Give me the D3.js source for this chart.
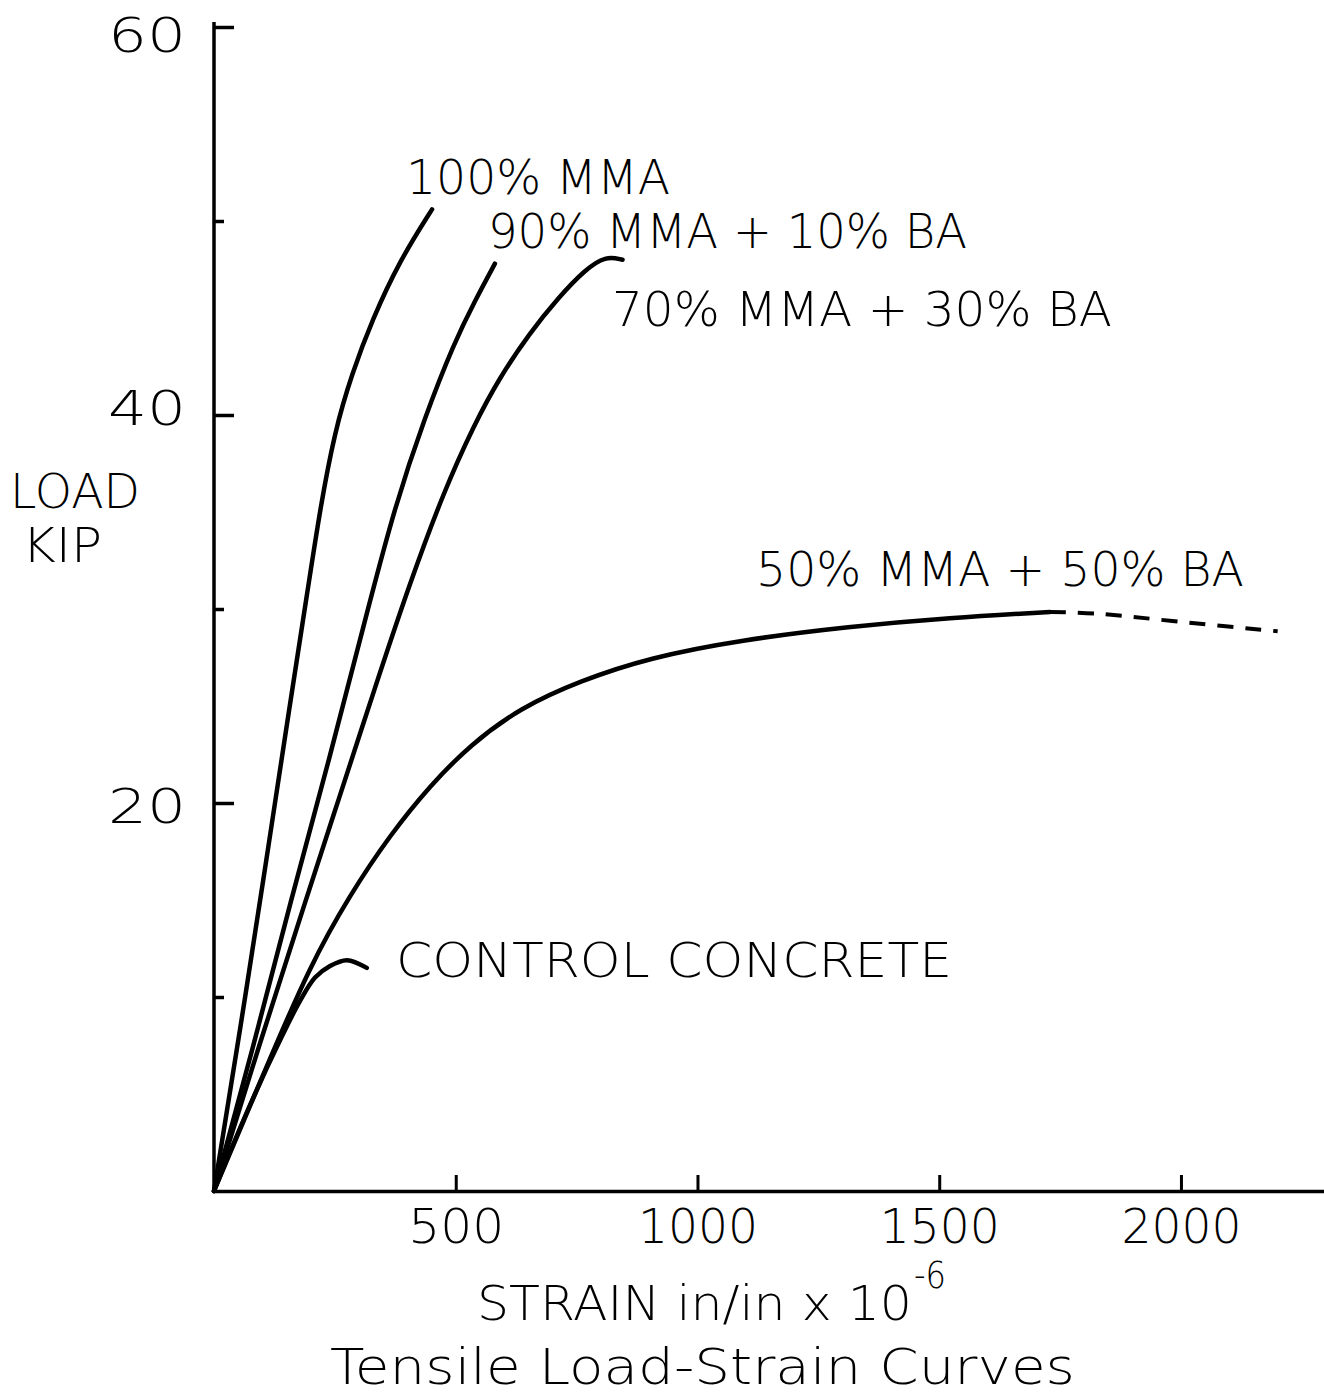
<!DOCTYPE html>
<html>
<head>
<meta charset="utf-8">
<script src="https://cdn.jsdelivr.net/npm/d3@7"></script>
<style>
  html, body { margin: 0; padding: 0; background: #fff; }
  svg { display: block; }
  text { font-family: "DejaVu Sans", sans-serif; font-weight: 200; fill: #000; }
</style>
</head>
<body>
<svg id="chart" width="1324" height="1398"></svg>
<script>
// ---- data (strain in/in x 10^-6, load kip) ----
const xTicks = [500, 1000, 1500, 2000];
const yTicks = [20, 40, 60];
const yMinorTicks = [10, 30, 50];

const mma100 = [[0,0],[54,8.3],[105,16.5],[157,25.1],[194,31.0],[219,35.1],[250,39.2],[285,42.1],[327,44.9],[385,48.0],[451,50.6]];
const mma90ba10 = [[0,0],[79,7.2],[159,15],[238,22.2],[312,29.4],[374,35.3],[436,39.9],[498,43.8],[540,45.9],[581,47.8]];
const mma70ba30 = [[0,0],[93,7.5],[190,15],[258,20.2],[331,25.8],[403,31.2],[476,36.1],[538,39.5],[590,41.9],[652,44.2],[714,46.1],[768,47.5],[810,48.2],[845,48.0]];
const mma50ba50 = [[0,0],[105,6.2],[199,11.65],[281,15.26],[364,18.35],[447,20.9],[530,23.0],[633,24.9],[757,26.3],[902,27.5],[1088,28.4],[1315,29.1],[1522,29.55],[1729,29.85]];
const mma50ba50Dashed = [[1729,29.85],[1830,29.75],[1995,29.35],[2200,28.85]];
const control = [[0,0],[74,4.4],[143,8.1],[178,9.8],[209,11.0],[240,11.6],[275,11.9],[316,11.5]];

const labelTexts = ["100% MMA", "90% MMA + 10% BA", "70% MMA + 30% BA", "50% MMA + 50% BA", "CONTROL CONCRETE"];

// ---- layout ----
const svg = d3.select("#chart");
const x = d3.scaleLinear().domain([0, 2300]).range([214, 1326]);
const y = d3.scaleLinear().domain([0, 60]).range([1191, 27]);

const tickTextWidth = d => String(d).length === 2 ? 78 : String(d).length === 3 ? 96 : 120;

// axes
const yAxis = d3.axisLeft(y).tickValues(yTicks).tickSizeInner(-20).tickSizeOuter(0).tickPadding(28).tickFormat(d3.format("d"));
const gy = svg.append("g").attr("transform", `translate(${x(0)},0)`).call(yAxis);
gy.select(".domain").attr("d", `M0,${y(0)}V22`).attr("stroke-width", 3.5);
gy.selectAll(".tick line").attr("stroke-width", 3.5);
gy.selectAll(".tick text")
  .attr("font-size", 48).attr("font-family", "DejaVu Sans").attr("font-weight", 200).attr("fill", "#000")
  .attr("textLength", tickTextWidth).attr("lengthAdjust", "spacingAndGlyphs")
  .attr("dy", d => d === 60 ? "0.5em" : d === 40 ? "0.2em" : "0.4em");

const yMinor = d3.axisLeft(y).tickValues(yMinorTicks).tickSizeInner(-10).tickSizeOuter(0).tickFormat("");
const gym = svg.append("g").attr("transform", `translate(${x(0)},0)`).call(yMinor);
gym.select(".domain").remove();
gym.selectAll(".tick line").attr("stroke-width", 3.5);

const xAxis = d3.axisBottom(x).tickValues(xTicks).tickSizeInner(-16).tickSizeOuter(0).tickPadding(18).tickFormat(d3.format("d"));
const gx = svg.append("g").attr("transform", `translate(0,${y(0)})`).call(xAxis);
gx.select(".domain").attr("stroke-width", 3.5);
gx.selectAll(".tick line").attr("stroke-width", 3);
gx.selectAll(".tick text")
  .attr("font-size", 48).attr("font-family", "DejaVu Sans").attr("font-weight", 200).attr("fill", "#000")
  .attr("textLength", tickTextWidth).attr("lengthAdjust", "spacingAndGlyphs");

// curves
const smooth = d3.line().x(d => x(d[0])).y(d => y(d[1])).curve(d3.curveBasis);
const through = d3.line().x(d => x(d[0])).y(d => y(d[1])).curve(d3.curveCatmullRom.alpha(0.5));
const series = [mma100, mma90ba10, mma70ba30, mma50ba50];
svg.append("g").selectAll("path.curve").data(series).join("path")
  .attr("class", "curve")
  .attr("d", smooth)
  .attr("fill", "none").attr("stroke", "#000").attr("stroke-width", 4.5)
  .attr("stroke-linecap", "round");
svg.append("path").datum(control).attr("d", through)
  .attr("fill", "none").attr("stroke", "#000").attr("stroke-width", 4.5)
  .attr("stroke-linecap", "round");
svg.append("path").datum(mma50ba50Dashed).attr("d", through)
  .attr("fill", "none").attr("stroke", "#000").attr("stroke-width", 4)
  .attr("stroke-dasharray", "16,12");

// curve labels
const labelPos = [
  {x: 406, y: 194, w: 264},
  {x: 488, y: 248, w: 479},
  {x: 612, y: 326, w: 500},
  {x: 756, y: 586, w: 488},
  {x: 396, y: 977, w: 556}
];
svg.append("g").selectAll("text.lbl").data(labelTexts).join("text")
  .attr("class", "lbl")
  .attr("x", (d, i) => labelPos[i].x)
  .attr("y", (d, i) => labelPos[i].y)
  .attr("textLength", (d, i) => labelPos[i].w)
  .attr("lengthAdjust", "spacingAndGlyphs")
  .attr("font-size", 48)
  .text(d => d);

// axis titles
svg.append("text").attr("x", 10).attr("y", 508).attr("font-size", 48).attr("textLength", 130).attr("lengthAdjust", "spacingAndGlyphs").text("LOAD");
svg.append("text").attr("x", 22).attr("y", 562).attr("font-size", 48).attr("textLength", 80).attr("lengthAdjust", "spacingAndGlyphs").text("KIP");

svg.append("text").attr("x", 477).attr("y", 1320).attr("font-size", 48)
  .attr("textLength", 435).attr("lengthAdjust", "spacingAndGlyphs").text("STRAIN in/in x 10");
svg.append("text").attr("x", 914).attr("y", 1288).attr("font-size", 38)
  .attr("textLength", 32).attr("lengthAdjust", "spacingAndGlyphs").text("-6");

svg.append("text").attr("x", 330).attr("y", 1384).attr("font-size", 50).attr("textLength", 745).attr("lengthAdjust", "spacingAndGlyphs").text("Tensile Load-Strain Curves");
</script>
</body>
</html>
